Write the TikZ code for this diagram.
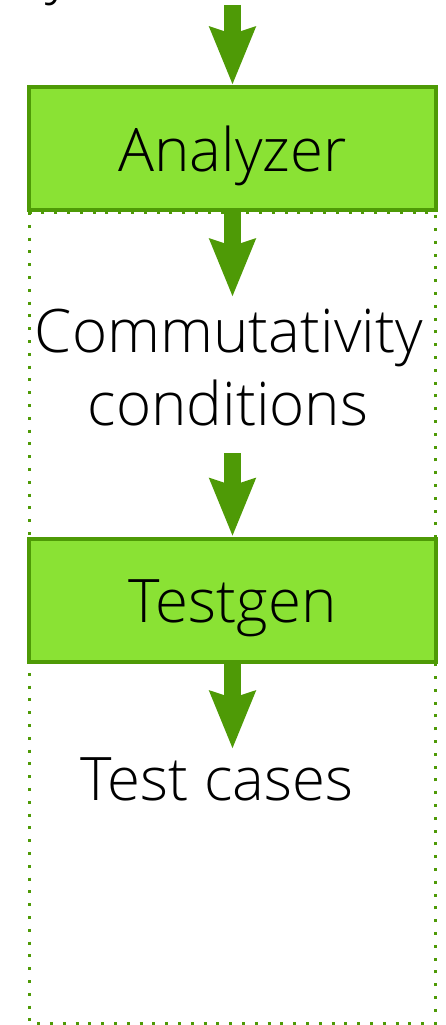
\documentclass[tikz,border=0pt]{standalone}
\usepackage{fontspec}
\setmainfont{Open Sans Light}
\usetikzlibrary{arrows.meta}
\definecolor{tgreen}{HTML}{8AE234}
\definecolor{tdark}{HTML}{4E9A06}
\tikzset{
  procbox/.style={draw=tdark, fill=tgreen, line width=4pt, minimum width=407pt, minimum height=123pt, inner sep=0pt, text height=45pt, text depth=0pt, font=\fontsize{60}{73}\selectfont},
  flowarrow/.style={draw=tdark, line width=17pt, -{Stealth[length=57pt,width=44pt,inset=6pt]}},
  label/.style={font=\fontsize{60}{73}\selectfont, inner sep=0pt, anchor=base},
  frame/.style={draw=tdark, line width=3pt, dash pattern=on 3pt off 9.8pt}
}
\begin{document}
\begin{tikzpicture}[x=1pt,y=-1pt]
\useasboundingbox (0,0) rectangle (446,1025);
\fill[white] (0,0) rectangle (446,1025);
\draw[frame] (29.5,212) rectangle (435,1023.5);
\node[label, anchor=base west] (cut) at (45,-8) {y};
\coordinate (top) at (232.5,5);
\node[procbox] (ana) at (232.5,148.5) {Analyzer};
\node[label] (comm) at (229,352) {Commutativity};
\node[label] (cond) at (228,425) {conditions};
\coordinate (c2) at (232.5,297);
\coordinate (c3) at (232.5,453);
\node[procbox] (tst) at (232.5,600) {Testgen};
\coordinate (c4) at (232.5,749);
\node[label] (tc) at (217,800) {Test cases};
\draw[flowarrow] (top) -- (ana.north);
\draw[flowarrow] (ana.south) -- (c2);
\draw[flowarrow] (c3) -- (tst.north);
\draw[flowarrow] (tst.south) -- (c4);
\end{tikzpicture}
\end{document}
